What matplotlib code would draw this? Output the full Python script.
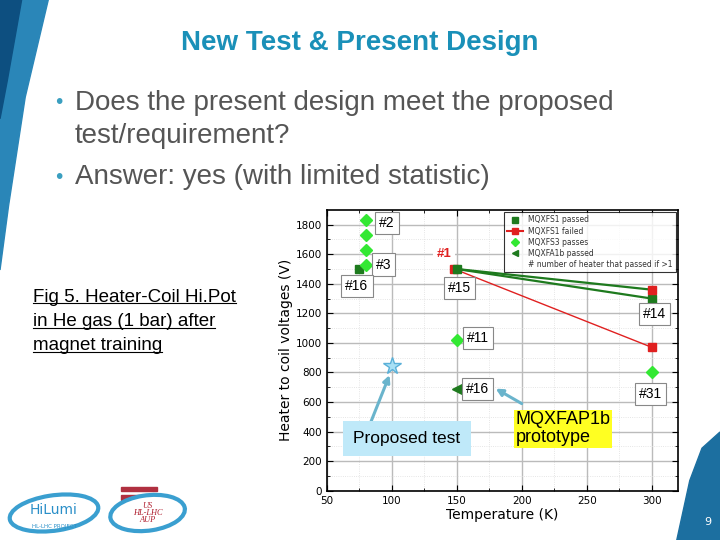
import matplotlib.pyplot as plt
from matplotlib.patches import Polygon, Ellipse, Rectangle
from matplotlib.lines import Line2D

# data
s1_pass_T = [75, 150, 300]
s1_pass_V = [1500, 1500, 1300]
s1_fail_T = [148, 300]
s1_fail_V = [1500, 970]
s1_fail_extra_T = [300]
s1_fail_extra_V = [1360]
s3_T = [80, 80, 80, 80, 150, 300]
s3_V = [1830, 1730, 1630, 1530, 1020, 800]
a1b_T = [150]
a1b_V = [690]
proposed_T = [100]
proposed_V = [845]

tags = ["#2", "#3", "#16", "#15", "#14", "#11", "#16", "#31"]
tag_T = [96, 93.5, 73, 152, 302, 166, 166, 299]
tag_V = [1810, 1530, 1385, 1370, 1195, 1035, 690, 655]

yticks = [0, 200, 400, 600, 800, 1000, 1200, 1400, 1600, 1800]
xticks = [50, 100, 150, 200, 250, 300]

fig = plt.figure(figsize=(7.2, 5.4), dpi=100)
fig.patch.set_facecolor("white")

# slide decoration
fig.patches.append(Polygon([(0, 1), (0.067, 1), (0.035, 0.82), (0.012, 0.62), (0, 0.5)],
                           closed=True, transform=fig.transFigure, color="#2a86b8", zorder=0))
fig.patches.append(Polygon([(0, 1), (0.03, 1), (0.01, 0.85), (0, 0.78)],
                           closed=True, transform=fig.transFigure, color="#0d4f80", zorder=0))
fig.patches.append(Polygon([(0.94, 0), (0.958, 0.11), (0.975, 0.17), (1, 0.2), (1, 0)],
                           closed=True, transform=fig.transFigure, color="#1c6fa0", zorder=0))
fig.text(0.983, 0.033, "9", color="white", fontsize=8, ha="center", va="center")

# logos (rough)
fig.patches.append(Ellipse((0.075, 0.05), 0.125, 0.065, angle=12, transform=fig.transFigure,
                           facecolor="white", edgecolor="#3a9fd0", linewidth=3))
fig.text(0.075, 0.055, "HiLumi", color="#2a8fc8", fontsize=10, ha="center", va="center")
fig.text(0.075, 0.025, "HL-LHC PROJECT", color="#2a8fc8", fontsize=4, ha="center", va="center")
for i in range(5):
    fig.patches.append(Rectangle((0.168, 0.03 + i * 0.015), 0.05, 0.008,
                                 transform=fig.transFigure, color="#b03040"))
fig.patches.append(Ellipse((0.205, 0.05), 0.105, 0.065, angle=12, transform=fig.transFigure,
                           facecolor="white", edgecolor="#3a9fd0", linewidth=3))
fig.text(0.205, 0.05, "US\nHL-LHC\nAUP", color="#b02030", fontsize=6, ha="center",
         va="center", style="italic", family="Liberation Serif", linespacing=0.9)

# title and bullets
fig.text(0.5, 0.92, "New Test & Present Design", color="#1a90b8", fontsize=20,
         weight="bold", ha="center", va="center", family="Liberation Sans")
fig.text(0.074, 0.81, "\u2022", color="#3a9fc0", fontsize=14, va="center")
fig.text(0.104, 0.81, "Does the present design meet the proposed", color="#555555",
         fontsize=20, va="center", family="Liberation Sans")
fig.text(0.104, 0.748, "test/requirement?", color="#555555",
         fontsize=20, va="center", family="Liberation Sans")
fig.text(0.074, 0.672, "\u2022", color="#3a9fc0", fontsize=14, va="center")
fig.text(0.104, 0.672, "Answer: yes (with limited statistic)", color="#555555",
         fontsize=20, va="center", family="Liberation Sans")

cap_lines = ["Fig 5. Heater-Coil Hi.Pot", "in He gas (1 bar) after", "magnet training"]
cap_texts = []
for i, line in enumerate(cap_lines):
    t = fig.text(0.046, 0.45 - i * 0.045, line, fontsize=13.5, va="center",
                 family="Liberation Sans")
    cap_texts.append(t)

ax = fig.add_axes([0.454, 0.0913, 0.4875, 0.52])

ax.plot(s1_fail_T, s1_fail_V, "-s", color="#e02020", markersize=6, linewidth=1, zorder=3)
ax.plot([s1_pass_T[1], s1_fail_extra_T[0]], [s1_pass_V[1], s1_fail_extra_V[0]],
        "-", color="#1e7a1e", linewidth=1.6, zorder=3)
ax.plot(s1_pass_T[1:], s1_pass_V[1:], "-", color="#1e7a1e", linewidth=1.6, zorder=3)
ax.plot(s1_pass_T, s1_pass_V, "s", color="#1e7a1e", markersize=6, zorder=4)
ax.plot(s1_fail_extra_T, s1_fail_extra_V, "s", color="#e02020", markersize=6, zorder=4)
ax.plot(s3_T, s3_V, "D", color="#33e833", markersize=6, zorder=4)
ax.plot(a1b_T, a1b_V, "<", color="#1e7a1e", markersize=7, zorder=4)
ax.plot(proposed_T, proposed_V, "*", color="#a8e0f5", markeredgecolor="#5ab0d8",
        markersize=13, zorder=5)

for t, x, y in zip(tags, tag_T, tag_V):
    ax.text(x, y, t, fontsize=10, ha="center", va="center", zorder=6,
            family="Liberation Sans",
            bbox=dict(boxstyle="square,pad=0.3", facecolor="white", edgecolor="#888888",
                      linewidth=0.8))
ax.text(140, 1603, "#1", fontsize=9.5, color="#e02020", weight="bold", ha="center",
        va="center", zorder=6, family="Liberation Sans",
        bbox=dict(boxstyle="square,pad=0.3", facecolor="white", edgecolor="none"))

ax.set_xlim(50, 320)
ax.set_ylim(0, 1900)
ax.set_xticks(xticks)
ax.set_yticks(yticks)
ax.set_xticks([75, 125, 175, 225, 275], minor=True)
ax.set_yticks([100, 300, 500, 700, 900, 1100, 1300, 1500, 1700], minor=True)
ax.tick_params(which="both", direction="in", top=True, right=True, labelsize=7.5,
               length=4)
ax.tick_params(which="minor", length=2)
ax.grid(which="major", color="#bbbbbb", linewidth=1)
ax.grid(which="minor", color="#dddddd", linewidth=0.6, linestyle=":")
ax.set_axisbelow(True)
ax.set_xlabel("Temperature (K)", fontsize=10, labelpad=2)
ax.set_ylabel("Heater to coil voltages (V)", fontsize=10, labelpad=2)
for sp in ax.spines.values():
    sp.set_linewidth(1.2)

handles = [
    Line2D([], [], marker="s", color="#1e7a1e", linestyle="none", markersize=4),
    Line2D([], [], marker="s", color="#e02020", linewidth=1.5, markersize=4),
    Line2D([], [], marker="D", color="#33e833", linestyle="none", markersize=4),
    Line2D([], [], marker="<", color="#1e7a1e", linestyle="none", markersize=4),
    Line2D([], [], linestyle="none"),
]
labels = ["MQXFS1 passed", "MQXFS1 failed", "MQXFS3 passes", "MQXFA1b passed",
          "# number of heater that passed if >1"]
leg = ax.legend(handles, labels, loc="upper right", fontsize=5.5, frameon=True,
                fancybox=False, edgecolor="black", borderaxespad=0.3,
                handlelength=2.2, labelspacing=0.3, borderpad=0.4, handletextpad=0.6)
leg.get_frame().set_linewidth(0.8)
leg.set_zorder(7)
for txt in leg.get_texts():
    txt.set_color("#333333")

# callouts
fig.text(0.565, 0.188, "Proposed test", fontsize=12.5, va="center", ha="center",
         family="Liberation Sans", bbox=dict(boxstyle="square,pad=0.6",
                                              facecolor="#bfe9f9", edgecolor="none"))
fig.text(0.716, 0.238, "MQXFAP1b\nprototype", fontsize=13, va="top", ha="left",
         family="Liberation Sans", linespacing=1.05,
         bbox=dict(boxstyle="square,pad=0.1", facecolor="#ffff22", edgecolor="none"))
ax.annotate("", xy=(99, 800), xytext=(0.514, 0.215), textcoords="figure fraction",
            arrowprops=dict(arrowstyle="-|>", color="#6ab4cc", linewidth=2.2,
                            mutation_scale=10))
ax.annotate("", xy=(178, 700), xytext=(0.728, 0.25), textcoords="figure fraction",
            arrowprops=dict(arrowstyle="-|>", color="#6ab4cc", linewidth=2.2,
                            mutation_scale=10))

# underline the caption
fig.canvas.draw()
r = fig.canvas.get_renderer()
inv = fig.transFigure.inverted()
for t in cap_texts:
    bb = t.get_window_extent(r)
    (x0, y0), (x1, y1) = inv.transform([(bb.x0, bb.y0), (bb.x1, bb.y1)])
    fig.lines.append(Line2D([x0, x1], [y0 + 0.004, y0 + 0.004], color="black",
                            linewidth=0.8, transform=fig.transFigure))

fig.savefig("out.png", dpi=100)
